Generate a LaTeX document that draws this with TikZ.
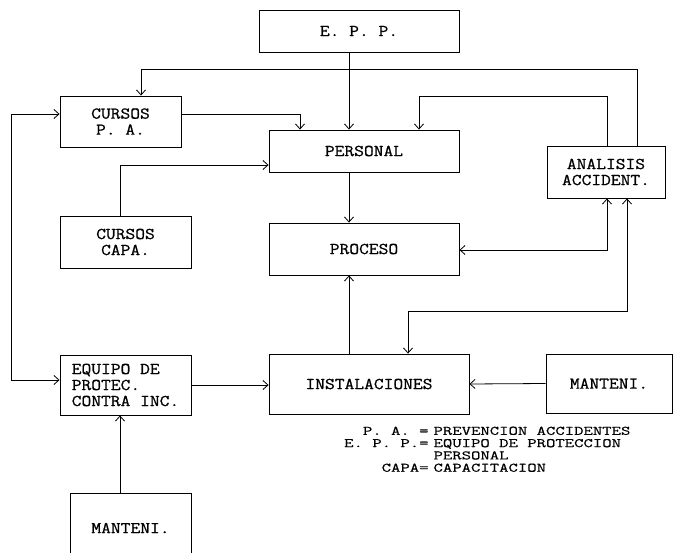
\documentclass[tikz,border=0pt]{standalone}
\usepackage{fontspec}
\newfontfamily\typfont[FakeStretch=1.15,FakeBold=0.9]{Latin Modern Mono}
\newfontfamily\legfont[FakeStretch=1.4,FakeBold=0.6]{Latin Modern Mono}
\usetikzlibrary{arrows.meta}

\begin{document}
\begin{tikzpicture}[x=1pt,y=-1pt,
	blk/.style={draw,line width=0.9pt,inner sep=0pt,align=center,font=\typfont\fontsize{16.5}{16}\selectfont},
	arr/.style={line width=0.8pt,-{Straight Barb[length=5pt,width=9pt]}},
	arrs/.style={line width=0.8pt,{Straight Barb[length=5pt,width=9pt]}-{Straight Barb[length=5pt,width=9pt]}}]
	\useasboundingbox (0,0) rectangle (674,553);
	\clip (0,0) rectangle (674,553);
	
	% boxes
	\node[blk,minimum width=200pt,minimum height=42pt] (epp) at (359,31) {E. P. P.};
	\node[blk,minimum width=121pt,minimum height=51pt] (cpa) at (120.5,121.5) {CURSOS\\P. A.};
	\node[blk,minimum width=190pt,minimum height=42pt] (pers) at (364,151) {PERSONAL};
	\node[blk,minimum width=118pt,minimum height=52pt] (anal) at (606,172) {ANALISIS\\ACCIDENT.};
	\node[blk,minimum width=131pt,minimum height=52pt] (ccapa) at (125.5,242) {CURSOS\\CAPA.};
	\node[blk,minimum width=190pt,minimum height=52pt] (proc) at (364,249) {PROCESO};
	\node[blk,align=left,minimum width=131pt,minimum height=60pt] (equipo) at (125.5,385) {EQUIPO DE\\PROTEC.\\CONTRA INC.};
	\node[blk,minimum width=200pt,minimum height=60pt] (inst) at (369,384) {INSTALACIONES};
	\node[blk,minimum width=126pt,minimum height=59pt] (mant1) at (609,383.5) {MANTENI.};
	\node[blk,minimum width=121pt,minimum height=70pt] (mant2) at (130.5,528) {MANTENI.};
	
	% legend
	\node[anchor=north west,inner sep=0pt,font=\legfont\fontsize{13}{12.3}\selectfont] (legend) at (344,426) {%
		\begin{tabular}{@{}r@{\hspace{5pt}}l@{}}
			P. A. = & PREVENCION ACCIDENTES\\
			E. P. P.= & EQUIPO DE PROTECCION\\
			& PERSONAL\\
			CAPA= & CAPACITACION
		\end{tabular}};
	
	% middle column
	\draw[arr] ([xshift=-10pt]epp.south) -- ([xshift=-15pt]pers.north);
	\draw[arr] ([xshift=-15pt]pers.south) -- ([xshift=-15pt]proc.north);
	\draw[arr] ([xshift=-20pt]inst.north) -- ([xshift=-15pt]proc.south);
	
	% loops from ANALISIS
	\draw[arr] ([xshift=31pt]anal.north) -- ++(0,-76) -| ([xshift=20.5pt]cpa.north);
	\draw[arr] ([xshift=1pt]anal.north) -- ++(0,-49) -| ([xshift=55pt]pers.north);
	\draw[arrs] ([xshift=1pt]anal.south) |- ([yshift=-1pt]proc.east);
	\draw[arrs] ([xshift=21pt]anal.south) -- ++(0,113) -| ([xshift=39pt]inst.north);
	
	% courses
	\draw[arr] ([yshift=7.5pt]cpa.east) -| ([xshift=-64pt]pers.north);
	\draw[arr] ([xshift=-5.5pt]ccapa.north) |- ([yshift=-14pt]pers.west);
	
	% lower row
	\draw[arr] (mant1.west) -- (inst.east);
	\draw[arr] (equipo.east) -- (equipo.east -| inst.west);
	\draw[arrs] ([yshift=7.5pt]cpa.west) -- ++(-48,0) |- ([yshift=5pt]equipo.west);
	\draw[arr] ([xshift=-10.5pt]mant2.north) -- ([xshift=-5.5pt]equipo.south);
\end{tikzpicture}
\end{document}
